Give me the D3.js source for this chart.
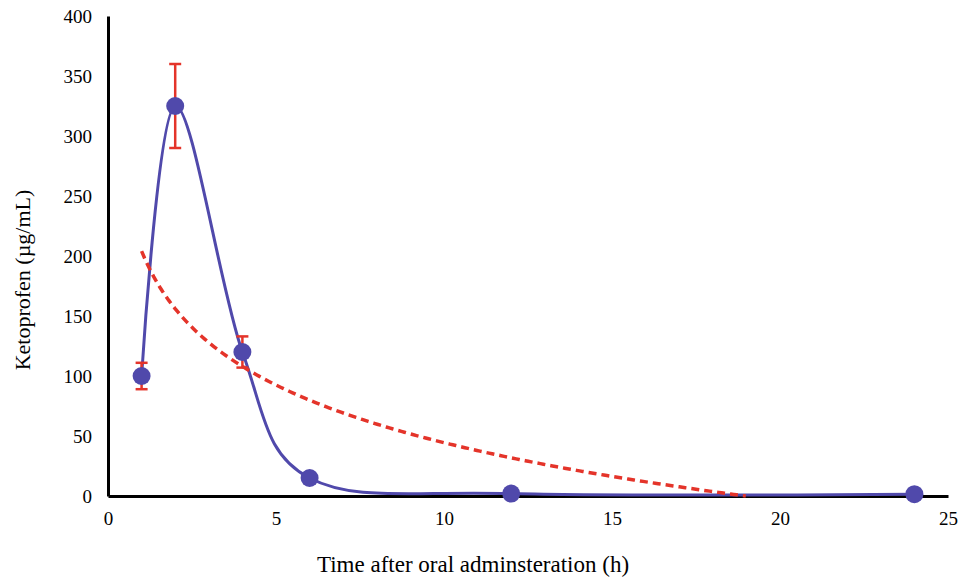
<!DOCTYPE html>
<html>
<head>
<meta charset="utf-8">
<script src="https://cdn.jsdelivr.net/npm/d3@7"></script>
<style>
  html, body { margin: 0; padding: 0; background: #fff; }
  svg { display: block; }
</style>
</head>
<body>
<svg id="chart" width="961" height="581" font-family="Liberation Serif"></svg>
<script>
// Ketoprofen plasma concentration after oral administration
const timeHours   = [1, 2, 4, 6, 12, 24];
const concMean    = [100, 325, 120, 15, 2, 1.5];
const concError   = [11, 35, 13, 0, 0, 0];
const xTickValues = [0, 5, 10, 15, 20, 25];
const yTickValues = [0, 50, 100, 150, 200, 250, 300, 350, 400];

const width = 961, height = 581;
const margin = { top: 16, right: 13, bottom: 85, left: 108 };
const serif = "Liberation Serif";

const svg = d3.select("#chart");

const x = d3.scaleLinear().domain([0, 25]).range([margin.left, width - margin.right]);
const y = d3.scaleLinear().domain([0, 400]).range([height - margin.bottom, margin.top]);

const blue = "#5049ab";
const red = "#e4342a";

const points = timeHours.map((t, i) => ({ t, c: concMean[i], e: concError[i] }));

// Logarithmic least-squares trendline: c = a + b * ln(t)
const lx = timeHours.map(Math.log);
const mx = d3.mean(lx), my = d3.mean(concMean);
const sxy = d3.sum(lx, (v, i) => (v - mx) * (concMean[i] - my));
const sxx = d3.sum(lx, v => (v - mx) * (v - mx));
const b = sxy / sxx;
const a = my - b * mx;
const tEnd = Math.min(24, Math.exp(-a / b)); // stop where the fit reaches zero
const trend = d3.range(0, 201).map(k => {
  const t = 1 + (tEnd - 1) * k / 200;
  return { t, c: Math.max(0, a + b * Math.log(t)) };
});

// Axes (no tick marks, serif labels)
const xAxis = d3.axisBottom(x).tickValues(xTickValues).tickSize(0).tickPadding(16);
const yAxis = d3.axisLeft(y).tickValues(yTickValues).tickSize(0).tickPadding(16);

const gx = svg.append("g").attr("transform", `translate(0,${y(0)})`).call(xAxis);
const gy = svg.append("g").attr("transform", `translate(${x(0)},0)`).call(yAxis);
[gx, gy].forEach(g => {
  g.attr("font-family", serif).attr("font-size", 19);
  g.select(".domain").attr("stroke", "#000").attr("stroke-width", 3);
  g.selectAll("text")
    .attr("font-family", serif)
    .attr("font-size", 19)
    .attr("fill", "#000");
});

// Smoothed series line
svg.append("path")
  .datum(points)
  .attr("fill", "none")
  .attr("stroke", blue)
  .attr("stroke-width", 3)
  .attr("d", d3.line().x(d => x(d.t)).y(d => y(d.c)).curve(d3.curveCardinal.tension(0)));

// Error bars
const eb = svg.append("g").attr("stroke", red).attr("stroke-width", 2.5)
  .selectAll("g").data(points.filter(d => d.e > 0)).join("g");
eb.append("line")
  .attr("x1", d => x(d.t)).attr("x2", d => x(d.t))
  .attr("y1", d => y(d.c - d.e)).attr("y2", d => y(d.c + d.e));
eb.append("line")
  .attr("x1", d => x(d.t) - 6).attr("x2", d => x(d.t) + 6)
  .attr("y1", d => y(d.c + d.e)).attr("y2", d => y(d.c + d.e));
eb.append("line")
  .attr("x1", d => x(d.t) - 6).attr("x2", d => x(d.t) + 6)
  .attr("y1", d => y(d.c - d.e)).attr("y2", d => y(d.c - d.e));

// Markers
svg.append("g").selectAll("circle").data(points).join("circle")
  .attr("cx", d => x(d.t)).attr("cy", d => y(d.c))
  .attr("r", 9).attr("fill", blue);

// Trendline (dashed)
svg.append("path")
  .datum(trend)
  .attr("fill", "none")
  .attr("stroke", red)
  .attr("stroke-width", 3.5)
  .attr("stroke-dasharray", "8,5")
  .attr("d", d3.line().x(d => x(d.t)).y(d => y(d.c)));

// Axis titles
svg.append("text")
  .attr("x", 473).attr("y", 572)
  .attr("text-anchor", "middle")
  .attr("font-family", serif)
  .attr("font-size", 23)
  .text("Time after oral adminsteration (h)");

svg.append("text")
  .attr("transform", "translate(30,280) rotate(-90)")
  .attr("text-anchor", "middle")
  .attr("font-family", serif)
  .attr("font-size", 22)
  .text("Ketoprofen (µg/mL)");
</script>
</body>
</html>
